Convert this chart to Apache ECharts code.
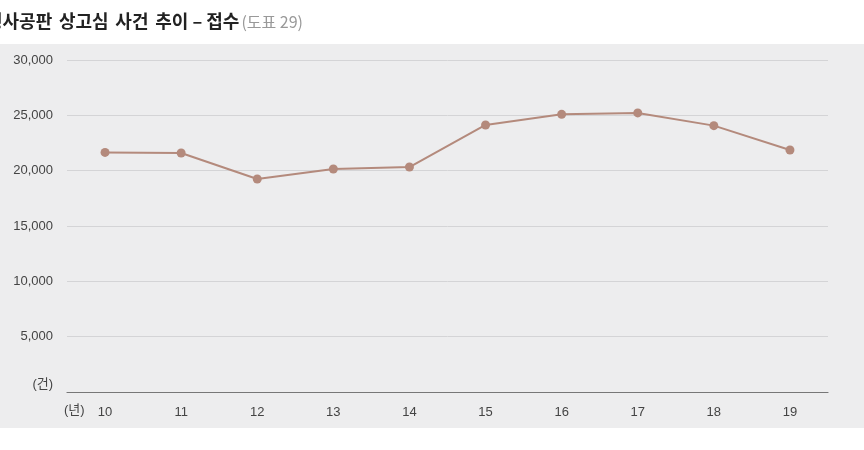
<!DOCTYPE html>
<html><head><meta charset="utf-8">
<script src="https://cdn.jsdelivr.net/npm/echarts@6/dist/echarts.min.js"></script>
<style>html,body{margin:0;padding:0;background:#fff;}#c{width:864px;height:450px;}</style>
</head><body><div id="c"></div>
<script>
var categories = ['10','11','12','13','14','15','16','17','18','19'];
var values = [21650, 21600, 19250, 20150, 20330, 24130, 25090, 25220, 24070, 21870];
var yTicks = [0, 5000, 10000, 15000, 20000, 25000, 30000];
var titleWords = ['형사공판', '상고심', '사건', '추이 – 접수'];
var titleSub = '(도표 29)';
var yUnit = '(건)';
var xUnit = '(년)';

var chart = echarts.init(document.getElementById('c'));
var kfont = '"Noto Sans CJK KR", "Noto Sans", sans-serif';
var lfont = '"Liberation Sans", "Noto Sans CJK KR", sans-serif';
// title words rendered with wider word spaces, as in the reference typography
var titleRich = titleWords.map(function(w){ return '{a|'+w+'}'; }).join('{s| }');
chart.setOption({
  backgroundColor: '#fff',
  animation: false,
  graphic: [
    {type:'rect', shape:{x:0,y:44,width:864,height:384}, style:{fill:'#ededee'}, z:-10, silent:true},
    {type:'text', left:-14, top:6, style:{text:titleRich+'{b|'+titleSub+'}', rich:{
      a:{fontSize:18, fontWeight:'bold', fill:'#222', fontFamily:kfont, lineHeight:22},
      s:{fontSize:30, fontFamily:kfont, lineHeight:22},
      b:{fontSize:16, fill:'#999', fontFamily:kfont, lineHeight:22, padding:[1,0,0,2]}
    }}},
    {type:'text', left:64, top:404, style:{text:xUnit, fontSize:13, fill:'#444', fontFamily:lfont}}
  ],
  grid: {left:67, right:36, top:60, bottom:58, containLabel:false},
  xAxis: {
    type:'category', data:categories, boundaryGap:true,
    axisLine:{lineStyle:{color:'#777', width:1.2}},
    axisTick:{show:false},
    axisLabel:{color:'#444', fontSize:13, margin:14, fontFamily:lfont}
  },
  yAxis: {
    type:'value', min:yTicks[0], max:yTicks[yTicks.length-1], interval:5000,
    axisLine:{show:false}, axisTick:{show:false},
    splitLine:{lineStyle:{color:'#d4d4d6', width:1}},
    axisLabel:{color:'#444', fontSize:13, margin:14, fontFamily:lfont,
      formatter:function(v){ return v===0 ? '{u|'+yUnit+'}' : v.toLocaleString('en-US'); },
      rich:{u:{fontSize:13, color:'#444', padding:[0,0,16,0], fontFamily:lfont}}
    }
  },
  series: [{
    type:'line', data:values, symbol:'circle', symbolSize:9,
    lineStyle:{color:'#b48a7c', width:2},
    itemStyle:{color:'#b48a7c'}
  }]
});
</script></body></html>
